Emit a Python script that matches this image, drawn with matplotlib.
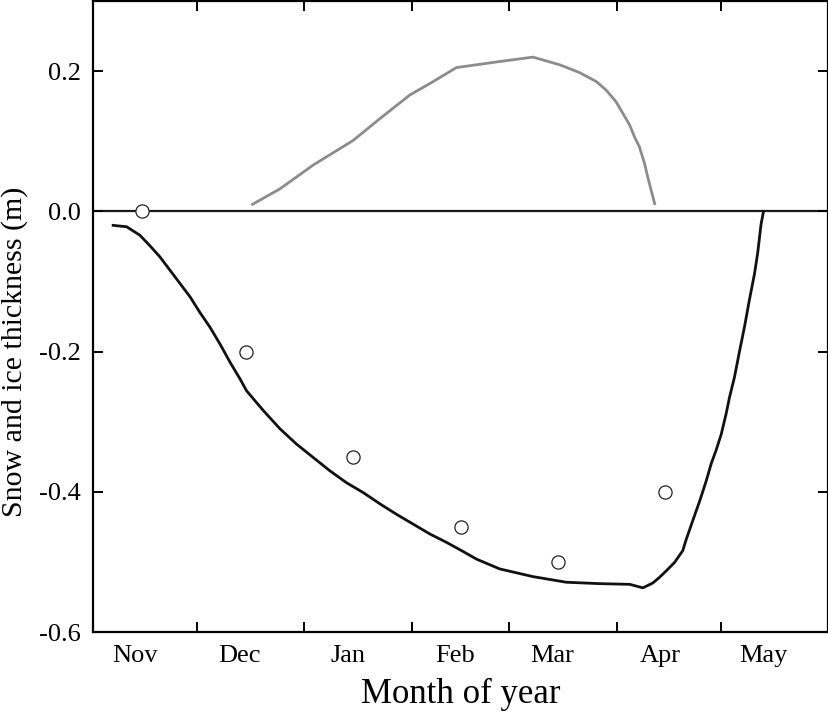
import matplotlib
matplotlib.use("Agg")
import matplotlib.pyplot as plt

plt.rcParams['font.family'] = ['Liberation Serif', 'DejaVu Serif']
plt.rcParams['axes.unicode_minus'] = False

# days since 1 November
ice_day = [5.8, 9.7, 13.5, 16.4, 19.3, 22.2, 25.1, 28.0, 30.8, 33.7, 36.6,
           39.5, 42.4, 44.3, 49.1, 53.9, 58.7, 63.5, 68.3, 73.1, 77.9, 82.7,
           87.5, 92.3, 97.1, 101.9, 106.7, 110.6, 117.3, 126.9, 136.5, 146.1,
           154.8, 158.6, 161.5, 163.4, 165.3, 167.7, 170.1, 171.1, 173.0,
           175.0, 176.9, 178.3, 179.7, 181.2, 182.6, 183.6, 185.0, 186.5,
           187.9, 189.3, 190.8, 191.7, 192.7, 193.4]
ice_thick = [-0.020, -0.022, -0.034, -0.049, -0.065, -0.084, -0.103, -0.122,
             -0.144, -0.165, -0.189, -0.215, -0.239, -0.256, -0.284, -0.310,
             -0.332, -0.351, -0.370, -0.387, -0.401, -0.417, -0.432, -0.446,
             -0.460, -0.472, -0.485, -0.496, -0.510, -0.521, -0.529, -0.531,
             -0.532, -0.537, -0.530, -0.522, -0.513, -0.501, -0.484, -0.468,
             -0.441, -0.413, -0.384, -0.360, -0.341, -0.318, -0.289, -0.265,
             -0.237, -0.199, -0.165, -0.127, -0.089, -0.060, -0.018, 0.0]

snow_day = [46.0, 53.9, 63.5, 75.0, 82.7, 91.4, 98.1, 104.8, 116.3, 126.9,
            134.6, 140.3, 145.2, 148.0, 150.9, 152.8, 154.8, 156.2, 157.6,
            159.1, 160.0, 161.0, 162.0]
snow_thick = [0.010, 0.032, 0.066, 0.101, 0.132, 0.166, 0.185, 0.205, 0.213,
              0.220, 0.209, 0.198, 0.185, 0.173, 0.156, 0.140, 0.123, 0.106,
              0.092, 0.068, 0.049, 0.030, 0.011]

obs_day = [14, 44, 75, 106, 134, 165]
obs_thick = [0.0, -0.2, -0.35, -0.45, -0.5, -0.4]

month_start = [30, 61, 92, 120, 151, 181]
month_label_pos = [12.2, 42.3, 73.5, 104.5, 132.5, 163.5, 193.5]
month_names = ['Nov', 'Dec', 'Jan', 'Feb', 'Mar', 'Apr', 'May']

fig = plt.figure(figsize=(8.29, 7.16), dpi=100)
ax = fig.add_axes([0.1122, 0.1173, 0.8866, 0.8813])

ax.axhline(0, color='#1a1a1a', lw=1.6, zorder=1)
ax.plot(snow_day, snow_thick, color='#8c8c8c', lw=2.0)
ax.plot(ice_day, ice_thick, color='#111111', lw=2.0)
ax.plot(obs_day, obs_thick, 'o', mfc='white', mec='#222222', mew=0.9, ms=9.5,
        zorder=3)

ax.set_xlim(0, 212)
ax.set_ylim(-0.6, 0.3)
ax.set_yticks([-0.6, -0.4, -0.2, 0.0, 0.2])
ax.set_yticklabels(['-0.6', '-0.4', '-0.2', '0.0', '0.2'])

ax.set_xticks(month_start)
ax.set_xticklabels([])
ax.set_xticks(month_label_pos, minor=True)
ax.set_xticklabels(month_names, minor=True)

ax.tick_params(which='major', direction='in', length=7.5, width=1.4,
               top=True, right=True, labelsize=19, pad=9)
ax.tick_params(axis='x', which='minor', length=0, labelsize=19, pad=9)

for s in ax.spines.values():
    s.set_linewidth(1.6)

ax.set_xlabel('Month of year', fontsize=25, labelpad=8)
ax.set_ylabel('Snow and ice thickness (m)', fontsize=21.5)
ax.yaxis.set_label_coords(-0.088, 0.444)

fig.savefig('out.png', dpi=100)
